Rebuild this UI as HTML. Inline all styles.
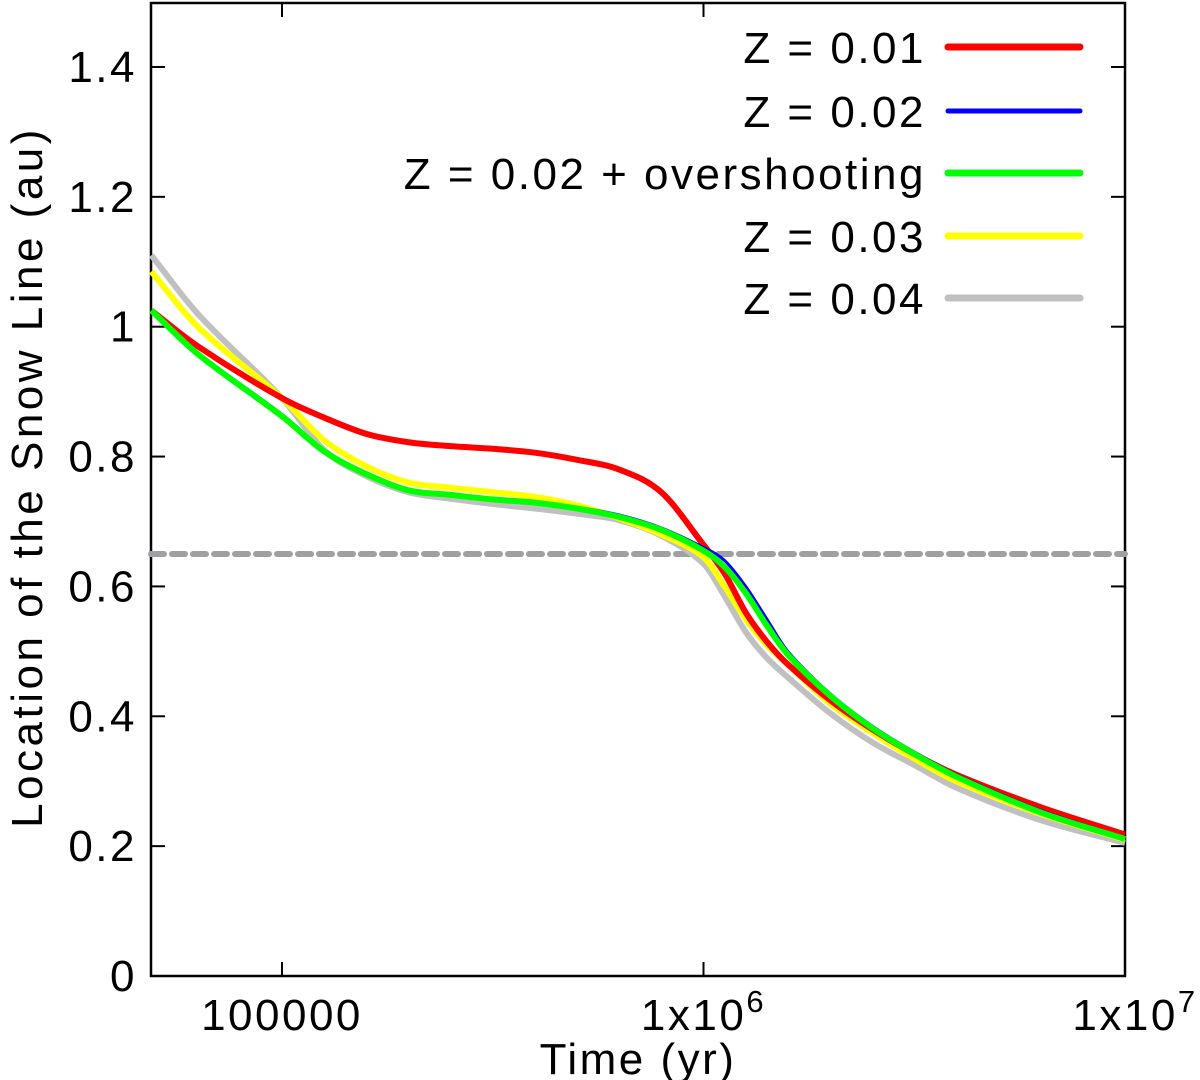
<!DOCTYPE html>
<html><head><meta charset="utf-8"><style>
html,body{margin:0;padding:0;background:#fff;}
svg{display:block;font-family:"Liberation Sans",sans-serif;}
text{letter-spacing:2.5px;}
</style></head><body>
<svg id="chart" width="1200" height="1080" viewBox="0 0 1200 1080">
<g id="axes"></g><g id="series"></g><g id="legend"></g>
</svg>
<script>
const logT = [4.69,4.8,5.0,5.1,5.2,5.3,5.4,5.5,5.6,5.7,5.8,5.9,6.0,6.05,6.1,6.15,6.2,6.3,6.4,6.5,6.6,6.8,7.0];
const z001 = [1.025,0.97,0.89,0.86,0.835,0.822,0.816,0.812,0.806,0.795,0.78,0.745,0.664,0.62,0.56,0.515,0.48,0.425,0.38,0.342,0.31,0.26,0.218];
const z002 = [1.025,0.96,0.865,0.81,0.775,0.75,0.742,0.735,0.73,0.722,0.71,0.69,0.66,0.64,0.6,0.55,0.5,0.435,0.385,0.345,0.31,0.255,0.213];
const z002ov = [1.025,0.958,0.862,0.808,0.773,0.748,0.741,0.734,0.729,0.72,0.707,0.687,0.655,0.63,0.59,0.54,0.495,0.432,0.382,0.342,0.307,0.252,0.211];
const z003 = [1.085,1.0,0.89,0.825,0.785,0.76,0.752,0.745,0.738,0.725,0.705,0.68,0.645,0.6,0.55,0.51,0.48,0.42,0.375,0.335,0.3,0.25,0.21];
const z004 = [1.11,1.02,0.89,0.81,0.77,0.745,0.735,0.727,0.72,0.712,0.702,0.678,0.635,0.585,0.53,0.49,0.46,0.405,0.36,0.325,0.29,0.24,0.205];
const seriesLabels = ["Z = 0.01","Z = 0.02","Z = 0.02 + overshooting","Z = 0.03","Z = 0.04"];
const yTicks = [0,0.2,0.4,0.6,0.8,1,1.2,1.4];
const xTicks = [5,6,7];
const xTickLabels = ["100000","1x10^6","1x10^7"];
const snowLine = 0.65;

const L=151,R=1125,T=3,B=976;
const X = l => 282 + (l-5)*421.5;
const Y = v => B - v*649.3;
const NS='http://www.w3.org/2000/svg';
function el(tag,attrs,parent){const e=document.createElementNS(NS,tag);for(const k in attrs)e.setAttribute(k,attrs[k]);parent.appendChild(e);return e;}
const axes=document.getElementById('axes'), ser=document.getElementById('series'), leg=document.getElementById('legend');

yTicks.forEach((v,i)=>{
  const y=Y(v);
  const t1=el('line',{x1:L,x2:L+14,y1:y,y2:y,stroke:'#000','stroke-width':2},axes);
  
  
  el('line',{x1:R-14,x2:R,y1:y,y2:y,stroke:'#000','stroke-width':2},axes);
  const tx=el('text',{x:L-14,y:y+15,'text-anchor':'end','font-size':44},axes);
  tx.textContent=String(v);
  
  
});
xTicks.forEach((l,i)=>{
  const x=X(l);
  el('line',{x1:x,x2:x,y1:B,y2:B-14,stroke:'#000','stroke-width':2},axes);
  el('line',{x1:x,x2:x,y1:T,y2:T+14,stroke:'#000','stroke-width':2},axes);
  const tx=el('text',{x:i==2?x+10:x,y:B+54,'text-anchor':'middle','font-size':44},axes);
  const parts=xTickLabels[i].split('^');
  tx.textContent=parts[0];
  if(parts[1]){const s=el('tspan',{dy:-18,'font-size':31},tx);s.textContent=parts[1];}
  
  
});
const frame=el('rect',{x:L,y:T,width:R-L,height:B-T,fill:'none',stroke:'#000','stroke-width':2.5},axes);


const xt=el('text',{x:638,y:1074,'text-anchor':'middle','font-size':44},axes);
xt.textContent='Time (yr)';


const yt=el('text',{x:0,y:0,'text-anchor':'middle','font-size':44,transform:'translate(42,477) rotate(-90)'},axes);
yt.setAttribute('style','letter-spacing:3.5px');
yt.textContent='Location of the Snow Line (au)';



const dl=el('line',{x1:L,x2:R,y1:Y(snowLine),y2:Y(snowLine),stroke:'#a0a0a4','stroke-width':6,'stroke-dasharray':'13 8','stroke-linecap':'round'},ser);



function path(vals){
  const p=logT.map((l,i)=>[X(l),Y(vals[i])]);
  let d=`M${p[0][0]},${p[0][1]}`;
  for(let i=0;i<p.length-1;i++){
    const p0=p[Math.max(0,i-1)],p1=p[i],p2=p[i+1],p3=p[Math.min(p.length-1,i+2)];
    const h=p2[0]-p1[0];
    const s1=(p2[1]-p0[1])/(p2[0]-p0[0]||1), s2=(p3[1]-p1[1])/(p3[0]-p1[0]||1);
    const c1=[p1[0]+h/3,p1[1]+s1*h/3];
    const c2=[p2[0]-h/3,p2[1]-s2*h/3];
    d+=`C${c1[0]},${c1[1]} ${c2[0]},${c2[1]} ${p2[0]},${p2[1]}`;
  }
  return d;
}
const allSeries=[z001,z002,z002ov,z003,z004];
const colors=['#ff0000','#0000ff','#00ff00','#ffff00','#c0c0c0'];
const widths=[6,3,6,6,6];
const names=['line-z001','line-z002','line-z002-overshooting','line-z003','line-z004'];
const order=[4,3,0,1,2];
order.forEach(i=>{
  const pth=el('path',{d:path(allSeries[i]),fill:'none',stroke:colors[i],'stroke-width':widths[i],'stroke-linejoin':'round'},ser);
  
  
});
const legY=[47,111,173,236,298];
seriesLabels.forEach((s,i)=>{
  const g=el('g',{},leg);
  
  
  const tx=el('text',{x:926,y:legY[i]+16,'text-anchor':'end','font-size':44},g);
  tx.textContent=s;
  el('line',{x1:948,x2:1080,y1:legY[i],y2:legY[i],stroke:colors[i],'stroke-width':widths[i]==3?5:7,'stroke-linecap':'round'},g);
});
</script>
</body></html>
